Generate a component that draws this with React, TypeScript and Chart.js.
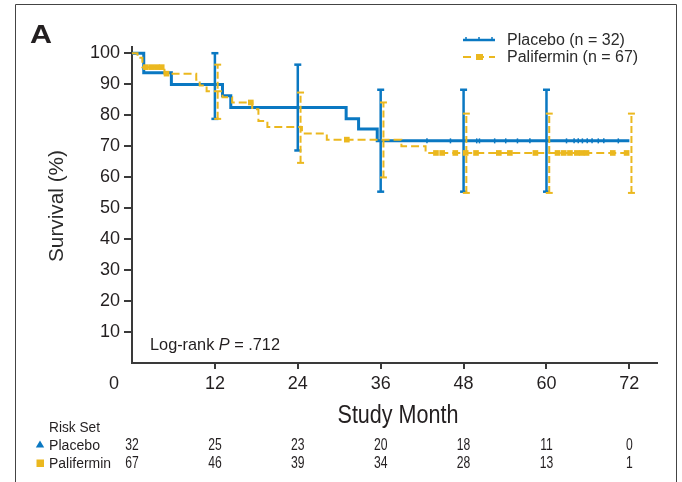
import React, { useEffect, useRef } from 'react';
import { Chart, registerables } from 'chart.js';

Chart.register(...registerables);

const BLUE = '#0a78c2';
const YELLOW = '#ebb81f';
const AXIS = '#3a3a3a';
const TEXT = '#231f20';
const FONT = "'Liberation Sans', Arial, Helvetica, sans-serif";

// ---- data ----
const xTickValues = [12, 24, 36, 48, 60, 72];
const yTickValues = [10, 20, 30, 40, 50, 60, 70, 80, 90, 100];

const placeboTimes = [0, 1.7, 5.7, 13.1, 14.3, 31.0, 32.8, 35.5, 72];
const placeboSurv = [100, 93.7, 89.9, 86.3, 82.5, 78.8, 75.5, 71.7, 71.7];

const paliTimes = [0, 0.8, 1.5, 4.7, 9.3, 9.8, 10.8, 13.1, 14.5, 17.4, 18.3, 19.6, 24.6, 28.2, 39.0, 42.5, 72.3];
const paliSurv = [100, 98.5, 95.5, 93.4, 91.4, 89.6, 87.7, 85.8, 84.1, 81.9, 78.1, 76.2, 74.1, 72.1, 70.0, 67.8, 67.8];

const placeboCensorTimes = [42.7, 46.1, 49.9, 50.3, 52.5, 54.1, 55.8, 57.6, 62.9, 64.0, 64.6, 65.2, 65.9, 66.6, 67.5, 68.3, 70.4];
const paliCensorTimes = [2.0, 2.8, 3.6, 4.3, 5.0, 17.2, 31.1, 44.0, 44.9, 46.8, 48.3, 49.8, 53.1, 54.7, 58.4, 61.6, 62.5, 63.4, 64.4, 65.1, 65.8, 69.6, 71.6];

const placeboCiMonths = [12, 24, 36, 48, 60];
const placeboCiLow = [78.8, 68.6, 55.3, 55.3, 55.3];
const placeboCiHigh = [100, 96.3, 88.2, 88.2, 88.2];

const paliCiMonths = [12.4, 24.4, 36.4, 48.4, 60.4, 72.3];
const paliCiLow = [78.8, 64.6, 59.9, 54.9, 54.9, 54.9];
const paliCiHigh = [96.3, 87.3, 84.1, 80.5, 80.5, 80.5];

const riskMonths = [0, 12, 24, 36, 48, 60, 72];
const placeboRisk = [32, 25, 23, 20, 18, 11, 0];
const paliRisk = [67, 46, 39, 34, 28, 13, 1];

// ---- helpers ----
function survAt(times: number[], surv: number[], t: number) {
  let v = surv[0];
  for (let i = 0; i < times.length; i++) {
    if (times[i] <= t) v = surv[i];
  }
  return v;
}

function ciPoints(months: number[], lo: number[], hi: number[]) {
  const pts: any[] = [];
  months.forEach((m, i) => {
    pts.push({ x: m, y: lo[i] });
    pts.push({ x: m, y: hi[i] });
    pts.push({ x: m, y: null });
  });
  return pts;
}

function fitText(ctx: CanvasRenderingContext2D, text: string, x: number, y: number, width: number, align: CanvasTextAlign) {
  const w = ctx.measureText(text).width;
  const k = width / w;
  ctx.save();
  ctx.translate(x, y);
  ctx.scale(k, 1);
  ctx.textAlign = align;
  ctx.fillText(text, 0, 0);
  ctx.restore();
}

function scaledText(ctx: CanvasRenderingContext2D, text: string, x: number, y: number, k: number, align: CanvasTextAlign) {
  ctx.save();
  ctx.translate(x, y);
  ctx.scale(k, 1);
  ctx.textAlign = align;
  ctx.fillText(text, 0, 0);
  ctx.restore();
}

const overlay = {
  id: 'overlay',
  afterDraw(chart: any) {
    const ctx: CanvasRenderingContext2D = chart.ctx;
    const xs = chart.scales.x;
    ctx.save();

    // frame
    ctx.strokeStyle = '#444';
    ctx.lineWidth = 1;
    ctx.beginPath();
    ctx.moveTo(15.5, 500);
    ctx.lineTo(15.5, 4.5);
    ctx.lineTo(676.5, 4.5);
    ctx.lineTo(676.5, 500);
    ctx.stroke();

    ctx.fillStyle = TEXT;
    ctx.textBaseline = 'alphabetic';

    // panel letter
    ctx.font = `bold 26px ${FONT}`;
    fitText(ctx, 'A', 30, 43, 22, 'left');

    // y title
    ctx.save();
    ctx.translate(57, 206);
    ctx.rotate(-Math.PI / 2);
    ctx.font = `20px ${FONT}`;
    ctx.fillStyle = '#2b2b2b';
    ctx.textBaseline = 'middle';
    fitText(ctx, 'Survival (%)', 0, 0, 112, 'center');
    ctx.restore();

    // x-axis "0" label at corner
    ctx.font = `18px ${FONT}`;
    ctx.textBaseline = 'middle';
    ctx.textAlign = 'center';
    ctx.fillText('0', 114, 384);

    // x title
    ctx.textBaseline = 'alphabetic';
    ctx.font = `25px ${FONT}`;
    fitText(ctx, 'Study Month', 398, 423, 121, 'center');

    // log-rank
    const fs = 17;
    ctx.font = `${fs}px ${FONT}`;
    const p1 = 'Log-rank ';
    const p3 = ' = .712';
    const w1 = ctx.measureText(p1).width;
    const w3 = ctx.measureText(p3).width;
    ctx.font = `italic ${fs}px ${FONT}`;
    const w2 = ctx.measureText('P').width;
    const k = 130 / (w1 + w2 + w3);
    ctx.save();
    ctx.translate(150, 349.5);
    ctx.scale(k, 1);
    ctx.textAlign = 'left';
    ctx.font = `${fs}px ${FONT}`;
    ctx.fillText(p1, 0, 0);
    ctx.font = `italic ${fs}px ${FONT}`;
    ctx.fillText('P', w1, 0);
    ctx.font = `${fs}px ${FONT}`;
    ctx.fillText(p3, w1 + w2, 0);
    ctx.restore();

    // legend
    ctx.lineWidth = 2.5;
    ctx.strokeStyle = BLUE;
    ctx.beginPath();
    ctx.moveTo(463, 40);
    ctx.lineTo(495, 40);
    ctx.stroke();
    ctx.lineWidth = 1.5;
    [466, 479, 492].forEach((lx) => {
      ctx.beginPath();
      ctx.moveTo(lx, 37);
      ctx.lineTo(lx, 41);
      ctx.stroke();
    });
    ctx.strokeStyle = YELLOW;
    ctx.lineWidth = 2;
    ctx.setLineDash([8, 5]);
    ctx.beginPath();
    ctx.moveTo(463, 57);
    ctx.lineTo(495, 57);
    ctx.stroke();
    ctx.setLineDash([]);
    ctx.fillStyle = YELLOW;
    ctx.fillRect(476, 54, 7, 6);

    ctx.fillStyle = '#2b2b2b';
    ctx.font = `16px ${FONT}`;
    ctx.textAlign = 'left';
    ctx.fillText('Placebo (n = 32)', 507, 45);
    ctx.fillText('Palifermin (n = 67)', 507, 62);

    // risk table
    ctx.fillStyle = TEXT;
    ctx.font = `15.5px ${FONT}`;
    fitText(ctx, 'Risk Set', 49, 431.5, 51, 'left');
    fitText(ctx, 'Placebo', 49, 449.5, 51, 'left');
    fitText(ctx, 'Palifermin', 49, 468, 62, 'left');
    ctx.font = `16px ${FONT}`;
    riskMonths.forEach((m, i) => {
      const px = xs.getPixelForValue(m);
      scaledText(ctx, String(placeboRisk[i]), px, 449.5, 0.76, 'center');
      scaledText(ctx, String(paliRisk[i]), px, 468, 0.76, 'center');
    });
    ctx.fillStyle = BLUE;
    ctx.beginPath();
    ctx.moveTo(40, 440.5);
    ctx.lineTo(44.2, 447.5);
    ctx.lineTo(35.8, 447.5);
    ctx.closePath();
    ctx.fill();
    ctx.fillStyle = YELLOW;
    ctx.fillRect(36.5, 459.5, 7.5, 7.5);

    ctx.restore();
  },
};

export default function App() {
  const ref = useRef<HTMLCanvasElement>(null);

  useEffect(() => {
    if (!ref.current) return;
    const placeboData = placeboTimes.map((t, i) => ({ x: t, y: placeboSurv[i] }));
    const paliData = paliTimes.map((t, i) => ({ x: t, y: paliSurv[i] }));
    const placeboCensor = placeboCensorTimes.map((t) => ({ x: t, y: survAt(placeboTimes, placeboSurv, t) }));
    const paliCensor = paliCensorTimes.map((t) => ({ x: t, y: survAt(paliTimes, paliSurv, t) }));

    const chart = new Chart(ref.current, {
      type: 'line',
      data: {
        datasets: [
          {
            label: 'Palifermin (n = 67)',
            data: paliData,
            borderColor: YELLOW,
            borderWidth: 2,
            borderDash: [8, 4],
            stepped: 'before',
            pointRadius: 0,
            fill: false,
            order: 1,
          },
          {
            label: 'Palifermin censored',
            data: paliCensor,
            showLine: false,
            pointStyle: 'rect',
            pointRadius: 4,
            pointBackgroundColor: YELLOW,
            pointBorderColor: YELLOW,
            pointBorderWidth: 0,
            order: 0,
          },
          {
            label: 'Palifermin CI',
            data: ciPoints(paliCiMonths, paliCiLow, paliCiHigh),
            borderColor: YELLOW,
            borderWidth: 2,
            borderDash: [7, 3],
            spanGaps: false,
            pointStyle: 'line',
            pointRadius: 3.5,
            pointBorderColor: YELLOW,
            pointBorderWidth: 2,
            order: 2,
          },
          {
            label: 'Placebo (n = 32)',
            data: placeboData,
            borderColor: BLUE,
            borderWidth: 3,
            stepped: 'before',
            pointRadius: 0,
            fill: false,
            order: 4,
          },
          {
            label: 'Placebo censored',
            data: placeboCensor,
            showLine: false,
            pointStyle: 'line',
            rotation: 90,
            pointRadius: 2.5,
            pointBorderColor: BLUE,
            pointBorderWidth: 1.5,
            order: 3,
          },
          {
            label: 'Placebo CI',
            data: ciPoints(placeboCiMonths, placeboCiLow, placeboCiHigh),
            borderColor: BLUE,
            borderWidth: 2.5,
            spanGaps: false,
            pointStyle: 'line',
            pointRadius: 3.5,
            pointBorderColor: BLUE,
            pointBorderWidth: 2.5,
            order: 5,
          },
        ] as any,
      },
      options: {
        animation: false,
        responsive: false,
        devicePixelRatio: 1,
        events: [],
        layout: { padding: { top: 47, right: 25, left: 0, bottom: 0 } },
        plugins: { legend: { display: false }, tooltip: { enabled: false } },
        scales: {
          x: {
            type: 'linear',
            min: 0,
            max: 76,
            grid: { display: true, drawOnChartArea: false, drawTicks: true, tickLength: 6, color: AXIS, lineWidth: 2 },
            border: { display: true, color: AXIS, width: 2 },
            ticks: { font: { family: FONT, size: 18 }, color: TEXT, padding: 4, maxRotation: 0 },
            afterBuildTicks: (s: any) => {
              s.ticks = xTickValues.map((v) => ({ value: v }));
            },
            afterFit: (s: any) => {
              s.height = 119;
            },
          },
          y: {
            type: 'linear',
            min: 0,
            max: 102,
            grid: { display: true, drawOnChartArea: false, drawTicks: true, tickLength: 8, color: AXIS, lineWidth: 2 },
            border: { display: true, color: AXIS, width: 2 },
            ticks: { font: { family: FONT, size: 18 }, color: TEXT, padding: 4 },
            afterBuildTicks: (s: any) => {
              s.ticks = yTickValues.map((v) => ({ value: v }));
            },
            afterFit: (s: any) => {
              s.width = 132;
            },
          },
        },
      } as any,
      plugins: [overlay],
    });
    return () => chart.destroy();
  }, []);

  return (
    <div style={{ position: 'fixed', left: 0, top: 0, width: 682, height: 482, background: '#fff', overflow: 'hidden' }}>
      <canvas ref={ref} width={682} height={482} style={{ display: 'block' }} />
    </div>
  );
}
